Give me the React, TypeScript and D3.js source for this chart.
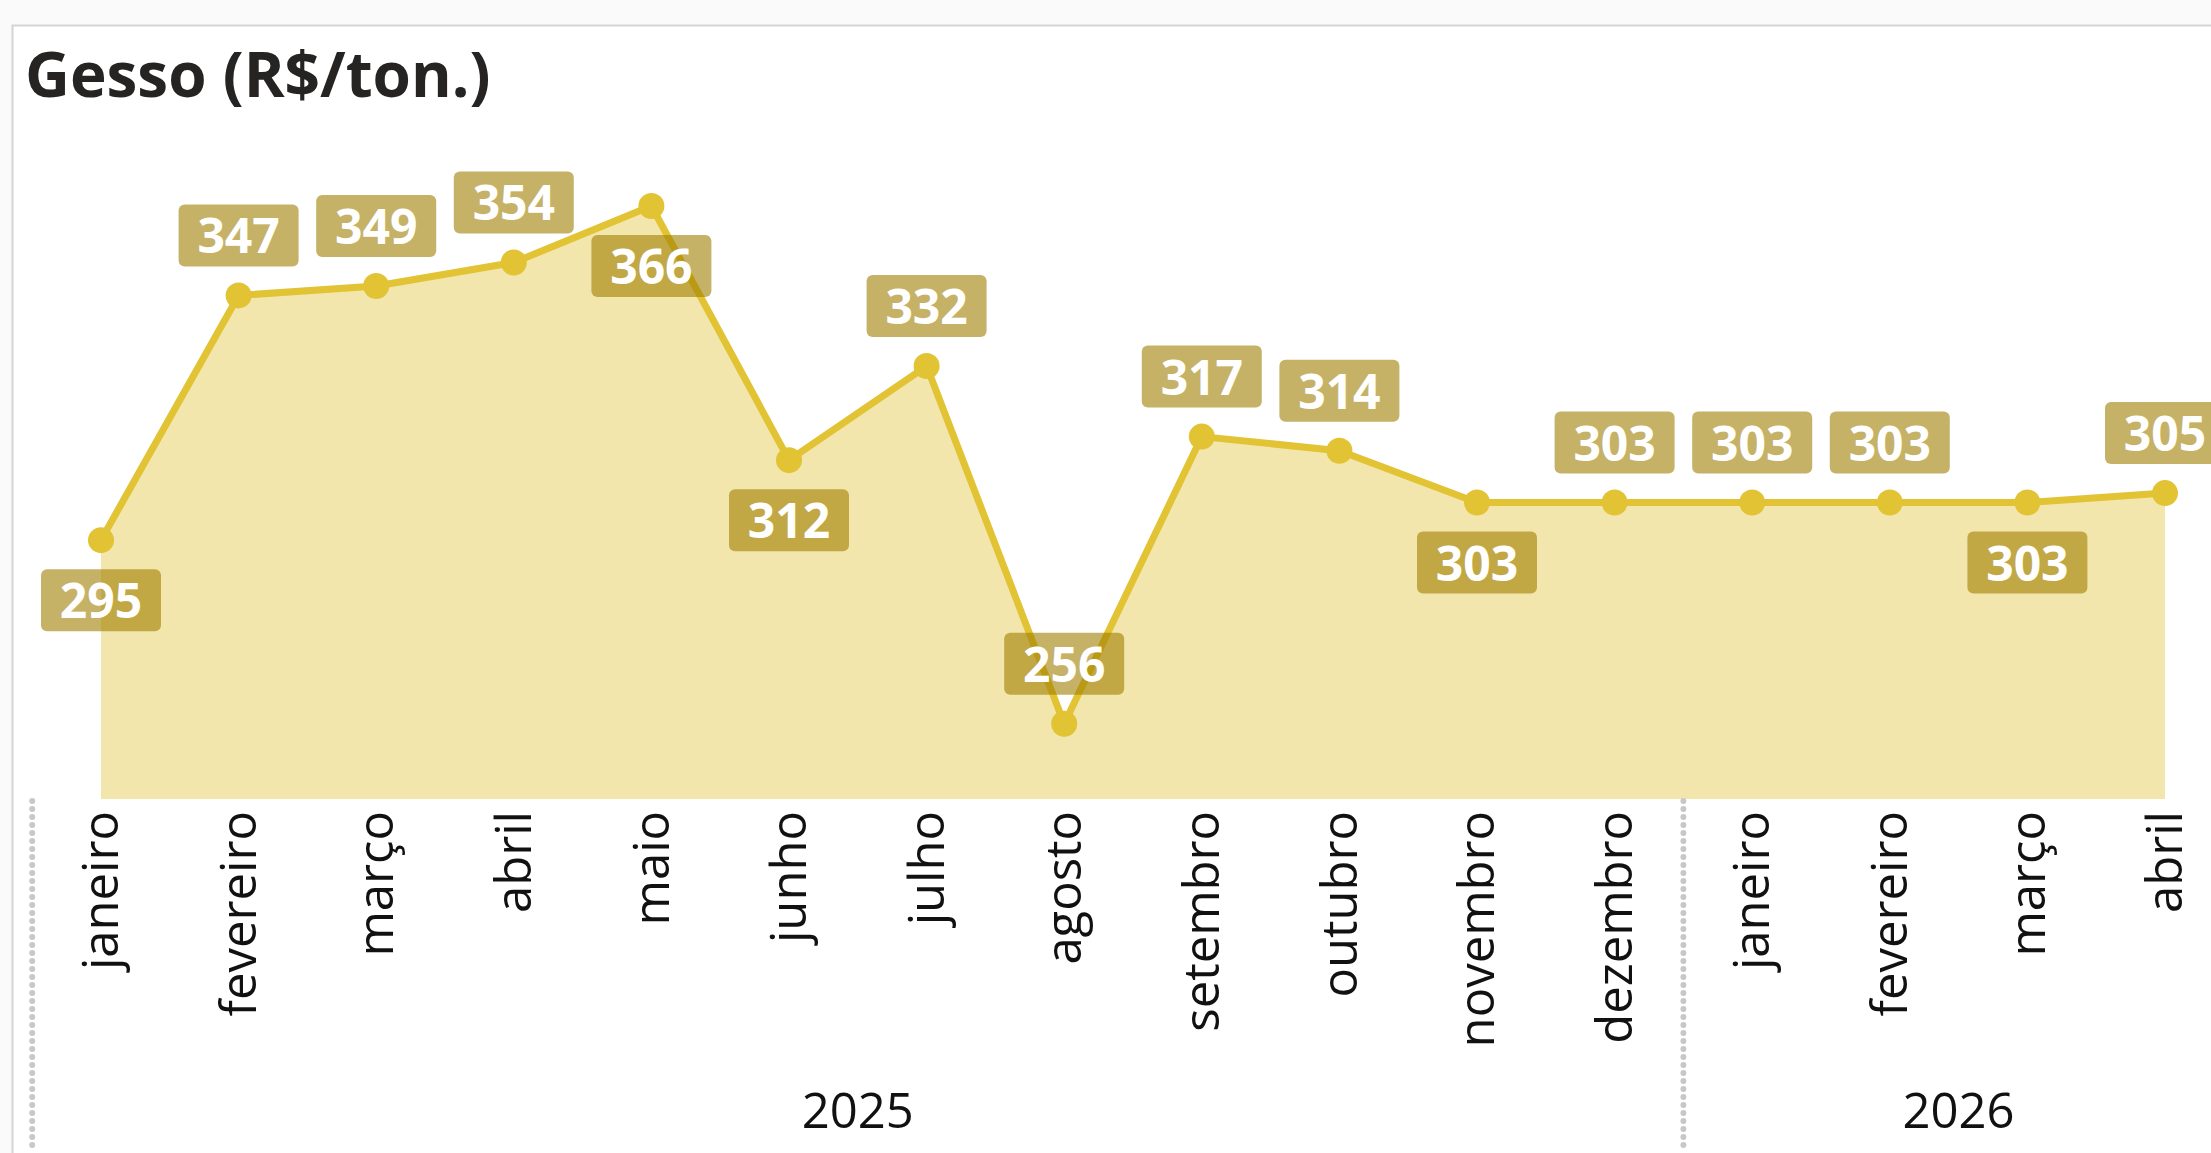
import * as d3 from 'd3';

// dados
const months = ['janeiro', 'fevereiro', 'março', 'abril', 'maio', 'junho', 'julho', 'agosto',
    'setembro', 'outubro', 'novembro', 'dezembro', 'janeiro', 'fevereiro', 'março', 'abril'];
const years = ['2025', '2025', '2025', '2025', '2025', '2025', '2025', '2025',
    '2025', '2025', '2025', '2025', '2026', '2026', '2026', '2026'];
const values = [295, 347, 349, 354, 366, 312, 332, 256, 317, 314, 303, 303, 303, 303, 303, 305];
// -1 rótulo acima do ponto, 1 abaixo
const labelSide = [1, -1, -1, -1, 1, 1, -1, -1, -1, -1, 1, -1, -1, -1, 1, -1];
const yDomain = [240, 366];

const W = 2211;
const H = 1153;
const FONT = '"Open Sans", "Noto Sans", sans-serif';

const COLORS = {
    line: '#e1c334',
    area: '#f2e6ac',
    label: 'rgba(160,127,0,0.6)',
    divider: '#c8c8c8',
    frame: '#d4d4d4',
    text: '#252423'
};

export default function App() {
    const plot = { left: 32.2, right: 2233.8, top: 206, bottom: 799 };

    const idx = values.map((_, i) => i);
    const xScale = d3.scaleBand<number>().domain(idx).range([plot.left, plot.right]).padding(0);
    const bw = xScale.bandwidth();
    const cx = (i: number) => (xScale(i) as number) + bw / 2;
    const yScale = d3.scaleLinear().domain(yDomain).range([plot.bottom, plot.top]);

    const line = d3.line<number>().x((d, i) => cx(i)).y((d) => yScale(d));
    const area = d3.area<number>().x((d, i) => cx(i)).y0(yScale(yDomain[0])).y1((d) => yScale(d));

    // grupos de anos
    const yearGroups = d3.groups(idx, (i) => years[i]).map(([year, list]) => ({
        year,
        x0: xScale(list[0]) as number,
        x1: (xScale(list[list.length - 1]) as number) + bw
    }));

    const boxW = 120;
    const boxH = 62;

    return (
        <svg width={W} height={H} style={{ position: 'fixed', left: 0, top: 0, background: '#fff' }}>
            <rect x={0} y={0} width={W} height={25} fill="#fafafa" />
            <rect x={0} y={25} width={12} height={H} fill="#fafafa" />
            <path d={`M12.5,${H} V25.5 H${W}`} fill="none" stroke={COLORS.frame} strokeWidth={2} />

            <text x={25} y={97} fontFamily={FONT} fontWeight={700} fontSize={62} fill={COLORS.text}>
                Gesso (R$/ton.)
            </text>

            <path d={area(values) ?? ''} fill={COLORS.area} />
            <path d={line(values) ?? ''} fill="none" stroke={COLORS.line} strokeWidth={7} strokeLinejoin="round" />
            {values.map((v, i) => (
                <circle key={'c' + i} cx={cx(i)} cy={yScale(v)} r={13} fill={COLORS.line} />
            ))}

            {values.map((v, i) => {
                const cy = yScale(v) + labelSide[i] * 60;
                return (
                    <g key={'l' + i}>
                        <rect x={cx(i) - boxW / 2} y={cy - boxH / 2} width={boxW} height={boxH} rx={6}
                            fill={COLORS.label} />
                        <text x={cx(i)} y={cy + 18} textAnchor="middle" fontFamily={FONT} fontWeight={700}
                            fontSize={48} fill="#fff">{v}</text>
                    </g>
                );
            })}

            {/* eixo x: meses */}
            {months.map((m, i) => (
                <text key={'m' + i} transform={`translate(${cx(i)},811) rotate(-90)`} dy="0.35em"
                    textAnchor="end" fontFamily={FONT} fontSize={49} fill="#111">{m}</text>
            ))}

            {/* divisórias e anos */}
            {yearGroups.map((g) => (
                <g key={g.year}>
                    <line x1={g.x0} x2={g.x0} y1={801} y2={H} stroke={COLORS.divider} strokeWidth={6}
                        strokeLinecap="round" strokeDasharray="0 8" />
                    <text x={(g.x0 + g.x1) / 2} y={1128} textAnchor="middle" fontFamily={FONT}
                        fontSize={49} fill="#111">{g.year}</text>
                </g>
            ))}
        </svg>
    );
}
